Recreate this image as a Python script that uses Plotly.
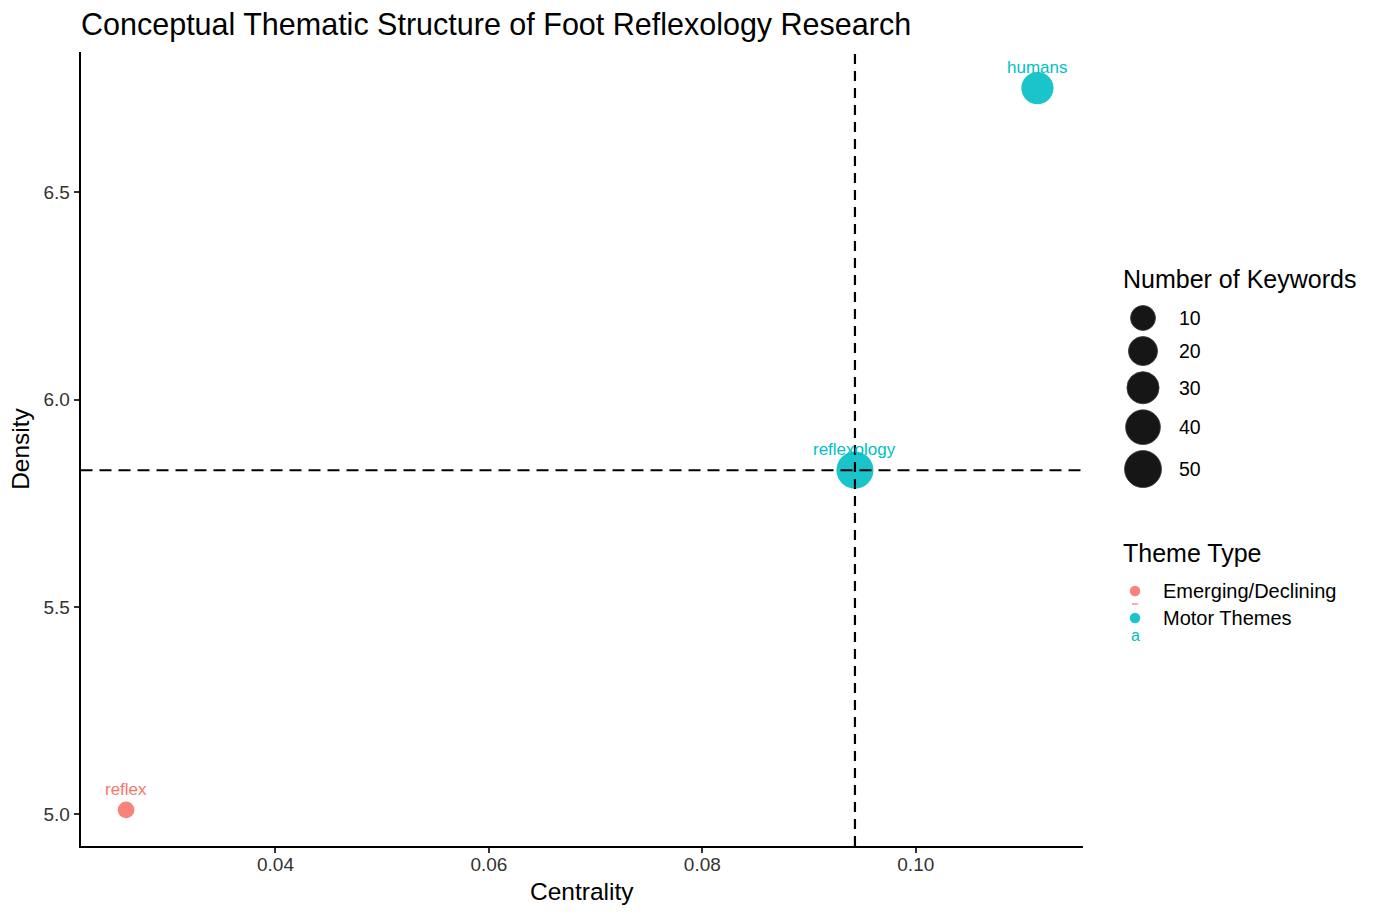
import numpy as np
import plotly.graph_objects as go

# ---------------- data ----------------
themes = ["reflex", "reflexology", "humans"]
centrality = [0.0260, 0.0943, 0.1114]
density = [5.011, 5.830, 6.751]
keywords = [2, 50, 30]
theme_type = ["Emerging/Declining", "Motor Themes", "Motor Themes"]

type_levels = ["Emerging/Declining", "Motor Themes"]
size_breaks = [10, 20, 30, 40, 50]
x_ticks = [0.04, 0.06, 0.08, 0.10]
x_tick_labels = ["0.04", "0.06", "0.08", "0.10"]
y_ticks = [5.0, 5.5, 6.0, 6.5]
y_tick_labels = ["5.0", "5.5", "6.0", "6.5"]

# ---------------- style ----------------
type_colors = {"Emerging/Declining": "#F8766D", "Motor Themes": "#00BFC4"}
FONT = "Liberation Sans, Arial, Helvetica, sans-serif"
W, H = 1379, 919
PL, PR, PT, PB = 80.5, 1083, 52, 846
SIZE_RANGE = (16.7, 37.0)

kmin, kmax = min(keywords), max(keywords)


def size_px(n):
    t = np.clip((np.asarray(n, float) - kmin) / (kmax - kmin), 0, 1)
    return SIZE_RANGE[0] + (SIZE_RANGE[1] - SIZE_RANGE[0]) * np.sqrt(t)


def expand(vals, f=0.05):
    lo, hi = min(vals), max(vals)
    s = hi - lo
    return [lo - f * s, hi + f * s]


fig = go.Figure()

# main points
for lvl in type_levels:
    idx = [i for i, t in enumerate(theme_type) if t == lvl]
    fig.add_trace(go.Scatter(
        x=[centrality[i] for i in idx],
        y=[density[i] for i in idx],
        mode="markers",
        marker=dict(size=size_px([keywords[i] for i in idx]),
                    color=type_colors[lvl], opacity=0.9, line=dict(width=0)),
        showlegend=False, hoverinfo="skip", xaxis="x", yaxis="y",
    ))

annotations = []
for i, name in enumerate(themes):
    annotations.append(dict(
        x=centrality[i], y=density[i], xref="x", yref="y", text=name,
        showarrow=False, yshift=20.5, yanchor="middle",
        font=dict(family=FONT, size=17, color=type_colors[theme_type[i]]),
    ))

# median reference lines
mx = float(np.median(centrality))
my = float(np.median(density))
shapes = [
    dict(type="line", xref="x", yref="y domain", x0=mx, x1=mx, y0=0, y1=1,
         line=dict(color="black", width=2.2, dash="10px,7px"), layer="above"),
    dict(type="line", xref="x domain", yref="y", x0=0, x1=1, y0=my, y1=my,
         line=dict(color="black", width=2.0, dash="12px,7px"), layer="above"),
]

# ---------------- legend (drawn on a pixel-unit helper axis) ----------------
LX0 = 1095
key_d = size_px(size_breaks)
key_y = [318.0]
for j in range(1, len(size_breaks)):
    key_y.append(key_y[-1] + (key_d[j - 1] + key_d[j]) / 2 + 6)

fig.add_trace(go.Scatter(
    x=[1143] * len(size_breaks), y=key_y, mode="markers",
    marker=dict(size=key_d, color="rgb(22,22,22)", opacity=1,
                line=dict(width=0.8, color="rgb(60,60,60)")),
    opacity=1, showlegend=False, hoverinfo="skip", xaxis="x2", yaxis="y2",
))
annotations.append(dict(x=1121, y=279, xref="x2", yref="y2", text="Number of Keywords",
                        showarrow=False, xanchor="left", yanchor="middle",
                        font=dict(family=FONT, size=25, color="black")))
for b, yy in zip(size_breaks, key_y):
    annotations.append(dict(x=1177, y=yy, xref="x2", yref="y2", text=str(b),
                            showarrow=False, xanchor="left", yanchor="middle",
                            font=dict(family=FONT, size=19.5, color="black")))

annotations.append(dict(x=1121, y=553, xref="x2", yref="y2", text="Theme Type",
                        showarrow=False, xanchor="left", yanchor="middle",
                        font=dict(family=FONT, size=25, color="black")))
type_key_y = [591, 618]
fig.add_trace(go.Scatter(
    x=[1135, 1135], y=type_key_y, mode="markers",
    marker=dict(size=10.5, color=[type_colors[l] for l in type_levels], opacity=0.9,
                line=dict(width=0)),
    showlegend=False, hoverinfo="skip", xaxis="x2", yaxis="y2",
))
for lvl, yy in zip(type_levels, type_key_y):
    annotations.append(dict(x=1161, y=yy, xref="x2", yref="y2", text=lvl,
                            showarrow=False, xanchor="left", yanchor="middle",
                            font=dict(family=FONT, size=20, color="black")))
annotations.append(dict(x=1135, y=635, xref="x2", yref="y2", text="a",
                        showarrow=False, xanchor="center", yanchor="middle",
                        font=dict(family=FONT, size=16, color=type_colors["Motor Themes"])))
shapes.append(dict(type="line", xref="x2", yref="y2", x0=1132, x1=1138, y0=604, y1=604,
                   line=dict(color=type_colors["Emerging/Declining"], width=1.2)))

fig.update_layout(
    width=W, height=H,
    margin=dict(l=0, r=0, t=0, b=0),
    paper_bgcolor="white", plot_bgcolor="white",
    font=dict(family=FONT, color="black"),
    title=dict(text="Conceptual Thematic Structure of Foot Reflexology Research",
               x=81 / W, xanchor="left", xref="paper",
               y=1 - 24 / H, yanchor="middle", yref="container",
               font=dict(family=FONT, size=30.5, color="black")),
    xaxis=dict(domain=[PL / W, PR / W], range=expand(centrality), anchor="y",
               tickmode="array", tickvals=x_ticks, ticktext=x_tick_labels,
               showgrid=False, zeroline=False, showline=True, linecolor="black",
               linewidth=1.8, ticks="outside", ticklen=5, tickwidth=1.5,
               ticklabelstandoff=-5,
               tickcolor="#333333", tickfont=dict(family=FONT, size=19, color="#333333"),
               title=dict(text="Centrality", standoff=9,
                          font=dict(family=FONT, size=24.5, color="black"))),
    yaxis=dict(domain=[1 - PB / H, 1 - PT / H], range=expand(density), anchor="x",
               tickmode="array", tickvals=y_ticks, ticktext=y_tick_labels,
               showgrid=False, zeroline=False, showline=True, linecolor="black",
               linewidth=1.8, ticks="outside", ticklen=5, tickwidth=1.5,
               tickcolor="#333333", tickfont=dict(family=FONT, size=19, color="#333333"),
               title=dict(text="Density", standoff=7,
                          font=dict(family=FONT, size=24.5, color="black"))),
    xaxis2=dict(domain=[LX0 / W, 1], range=[LX0, W], anchor="y2", visible=False,
                fixedrange=True),
    yaxis2=dict(domain=[0, 1], range=[H, 0], anchor="x2", visible=False, fixedrange=True),
    annotations=annotations,
    shapes=shapes,
    showlegend=False,
)

fig.write_html("out.html")
